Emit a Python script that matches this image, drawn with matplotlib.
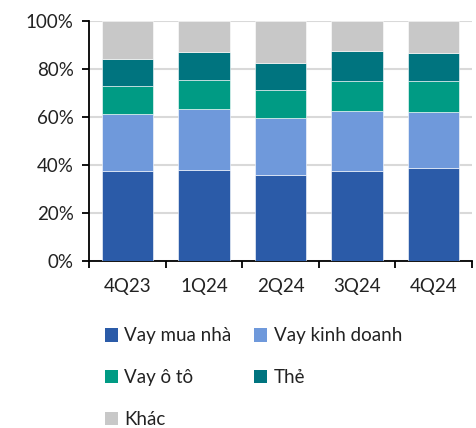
import matplotlib
matplotlib.use("Agg")
import matplotlib.pyplot as plt
from matplotlib.patches import Patch
import numpy as np

plt.rcParams["font.family"] = ["Lato", "DejaVu Sans"]

categories = ["4Q23", "1Q24", "2Q24", "3Q24", "4Q24"]
vay_mua_nha = [37.3, 38.0, 35.7, 37.3, 38.8]
vay_kinh_doanh = [23.7, 25.3, 23.8, 25.0, 23.1]
vay_o_to = [11.7, 11.9, 11.7, 12.6, 13.0]
the = [11.2, 11.9, 11.3, 12.6, 11.8]
khac = [16.1, 12.9, 17.5, 12.5, 13.3]

series = [
    ("Vay mua nhà", vay_mua_nha, "#2B5BA8"),
    ("Vay kinh doanh", vay_kinh_doanh, "#6F99DB"),
    ("Vay ô tô", vay_o_to, "#009B84"),
    ("Thẻ", the, "#00747F"),
    ("Khác", khac, "#C8C8C8"),
]

fig = plt.figure(figsize=(4.76, 4.28), dpi=100)
ax = fig.add_axes([89/476, 1-261/428, (472-89)/476, (261-20.7)/428])

x = np.arange(len(categories))
bottom = np.zeros(len(categories))
for name, vals, col in series:
    ax.bar(x, vals, bottom=bottom, width=0.67, color=col, edgecolor="white",
           linewidth=0.4, zorder=3)
    bottom += np.array(vals)

ax.set_xlim(-0.5, len(categories) - 0.5)
ax.set_ylim(0, 100)
ax.set_yticks(np.arange(0, 101, 20))
ax.set_yticklabels([f"{v}%" for v in range(0, 101, 20)], fontsize=13.5, color="#222222")
ax.yaxis.grid(True, color="#D9D9D9", linewidth=1.5, zorder=0)
ax.set_axisbelow(True)

ax.set_xticks(np.arange(-0.5, len(categories), 1.0))
ax.set_xticklabels([])
ax.set_xticks(x, minor=True)
ax.set_xticklabels(categories, minor=True, fontsize=13.5, color="#222222")
ax.tick_params(axis="x", which="minor", length=0, pad=12)
ax.tick_params(axis="x", which="major", length=5, width=1.3, color="black", direction="out")
ax.tick_params(axis="y", length=5, width=1.3, color="black", pad=6)

for s in ["top", "right"]:
    ax.spines[s].set_visible(False)
for s in ["left", "bottom"]:
    ax.spines[s].set_linewidth(1.3)
    ax.spines[s].set_color("black")

handles = [Patch(facecolor=c, edgecolor="none", label=n) for n, _, c in series]
order = [0, 2, 4, 1, 3]
leg = fig.legend([handles[i] for i in order], [series[i][0] for i in order],
                 ncol=2, loc="upper left", bbox_to_anchor=(97/476, 1-320/428),
                 frameon=False, prop={"family": "Lato", "size": 13.5},
                 handlelength=0.7, handleheight=0.7, handletextpad=0.35,
                 labelspacing=1.33, columnspacing=1.2, borderaxespad=0,
                 labelcolor="#222222")

fig.savefig("out.png", dpi=100)
